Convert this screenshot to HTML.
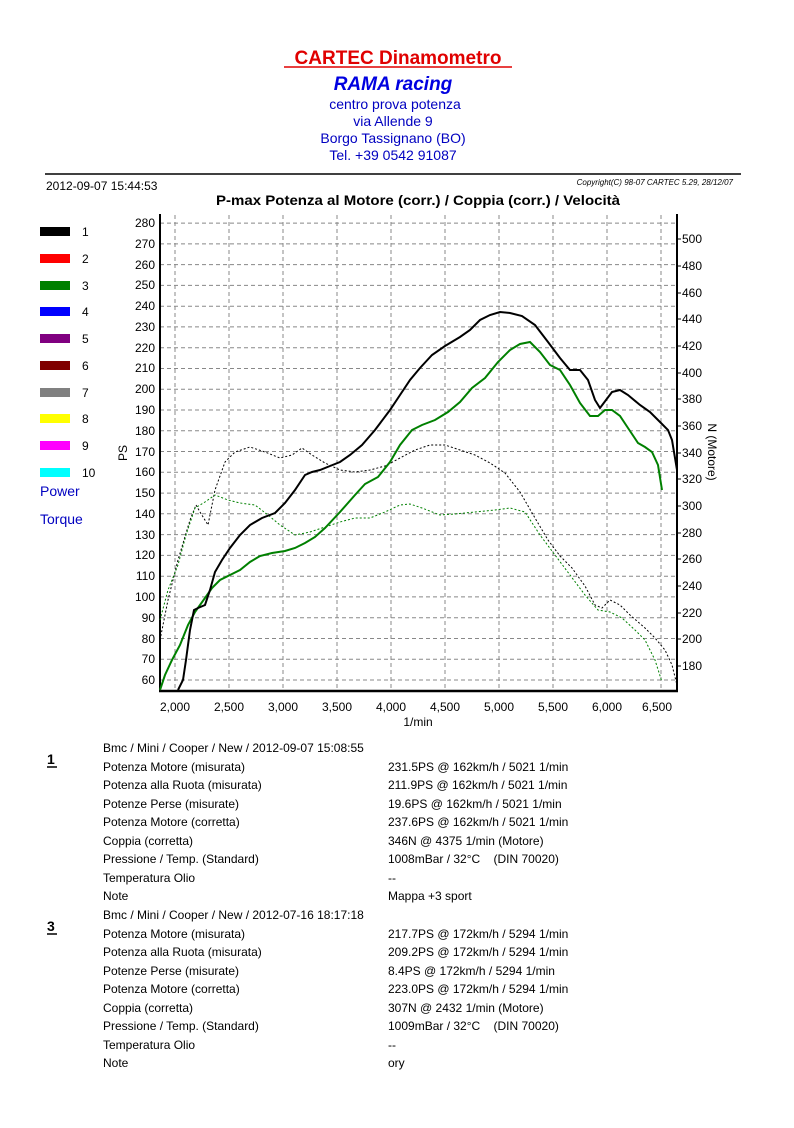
<!DOCTYPE html>
<html><head><meta charset="utf-8"><style>
body{margin:0;background:#fff}
svg text{font-family:"Liberation Sans",Arial,sans-serif;white-space:pre}
</style></head><body>
<svg width="794" height="1123" xmlns="http://www.w3.org/2000/svg">
<rect width="794" height="1123" fill="#fff"/>
<text x="398" y="64" font-size="19" font-weight="bold" fill="#e00000" text-anchor="middle">CARTEC Dinamometro</text>
<line x1="284" y1="67" x2="512" y2="67" stroke="#e00000" stroke-width="1.5"/>
<text x="393" y="90" font-size="19" font-weight="bold" font-style="italic" fill="#0000e0" text-anchor="middle">RAMA racing</text>
<g font-size="14" fill="#0000c0" text-anchor="middle">
<text x="395" y="109">centro prova potenza</text>
<text x="393" y="126">via Allende 9</text>
<text x="393" y="143">Borgo Tassignano (BO)</text>
<text x="393" y="160">Tel. +39 0542 91087</text>
</g>
<line x1="45" y1="174" x2="741" y2="174" stroke="#000" stroke-width="1.5"/>
<text x="46" y="190" font-size="12">2012-09-07 15:44:53</text>
<text x="733" y="185" font-size="8" font-style="italic" text-anchor="end">Copyright(C) 98-07 CARTEC 5.29, 28/12/07</text>
<text x="418" y="205" font-size="14" font-weight="bold" text-anchor="middle" textLength="404" lengthAdjust="spacingAndGlyphs">P-max Potenza al Motore (corr.) / Coppia (corr.) / Velocità</text>
<g font-size="12">
<rect x="40" y="227" width="30" height="9" fill="#000"/><text x="82" y="236">1</text>
<rect x="40" y="254" width="30" height="9" fill="#ff0000"/><text x="82" y="263">2</text>
<rect x="40" y="281" width="30" height="9" fill="#008000"/><text x="82" y="290">3</text>
<rect x="40" y="307" width="30" height="9" fill="#0000ff"/><text x="82" y="316">4</text>
<rect x="40" y="334" width="30" height="9" fill="#800080"/><text x="82" y="343">5</text>
<rect x="40" y="361" width="30" height="9" fill="#800000"/><text x="82" y="370">6</text>
<rect x="40" y="388" width="30" height="9" fill="#808080"/><text x="82" y="397">7</text>
<rect x="40" y="414" width="30" height="9" fill="#ffff00"/><text x="82" y="423">8</text>
<rect x="40" y="441" width="30" height="9" fill="#ff00ff"/><text x="82" y="450">9</text>
<rect x="40" y="468" width="30" height="9" fill="#00ffff"/><text x="82" y="477">10</text>
<text x="40" y="496" font-size="14" fill="#0000c0">Power</text>
<text x="40" y="524" font-size="14" fill="#0000c0">Torque</text>
</g>
<g stroke="#888" stroke-dasharray="4,3" stroke-width="1">
<line x1="160" x2="677" y1="223.1" y2="223.1"/><line x1="160" x2="677" y1="243.9" y2="243.9"/><line x1="160" x2="677" y1="264.6" y2="264.6"/><line x1="160" x2="677" y1="285.4" y2="285.4"/><line x1="160" x2="677" y1="306.2" y2="306.2"/><line x1="160" x2="677" y1="326.9" y2="326.9"/><line x1="160" x2="677" y1="347.7" y2="347.7"/><line x1="160" x2="677" y1="368.5" y2="368.5"/><line x1="160" x2="677" y1="389.2" y2="389.2"/><line x1="160" x2="677" y1="410" y2="410"/><line x1="160" x2="677" y1="430.8" y2="430.8"/><line x1="160" x2="677" y1="451.5" y2="451.5"/><line x1="160" x2="677" y1="472.3" y2="472.3"/><line x1="160" x2="677" y1="493.1" y2="493.1"/><line x1="160" x2="677" y1="513.8" y2="513.8"/><line x1="160" x2="677" y1="534.6" y2="534.6"/><line x1="160" x2="677" y1="555.4" y2="555.4"/><line x1="160" x2="677" y1="576.2" y2="576.2"/><line x1="160" x2="677" y1="596.9" y2="596.9"/><line x1="160" x2="677" y1="617.7" y2="617.7"/><line x1="160" x2="677" y1="638.5" y2="638.5"/><line x1="160" x2="677" y1="659.2" y2="659.2"/><line x1="160" x2="677" y1="680" y2="680"/>
<line y1="215" y2="691" x1="175" x2="175"/><line y1="215" y2="691" x1="229" x2="229"/><line y1="215" y2="691" x1="283" x2="283"/><line y1="215" y2="691" x1="337" x2="337"/><line y1="215" y2="691" x1="391" x2="391"/><line y1="215" y2="691" x1="445" x2="445"/><line y1="215" y2="691" x1="499" x2="499"/><line y1="215" y2="691" x1="553" x2="553"/><line y1="215" y2="691" x1="607" x2="607"/><line y1="215" y2="691" x1="661" x2="661"/>
</g>
<line x1="160" y1="214" x2="160" y2="692" stroke="#000" stroke-width="2"/>
<line x1="677" y1="214" x2="677" y2="692" stroke="#000" stroke-width="2"/>
<line x1="159" y1="691" x2="678" y2="691" stroke="#000" stroke-width="2.5"/>
<g font-size="12" text-anchor="end">
<text x="155" y="227">280</text><text x="155" y="248">270</text><text x="155" y="269">260</text><text x="155" y="289">250</text><text x="155" y="310">240</text><text x="155" y="331">230</text><text x="155" y="352">220</text><text x="155" y="372">210</text><text x="155" y="393">200</text><text x="155" y="414">190</text><text x="155" y="435">180</text><text x="155" y="456">170</text><text x="155" y="476">160</text><text x="155" y="497">150</text><text x="155" y="518">140</text><text x="155" y="539">130</text><text x="155" y="559">120</text><text x="155" y="580">110</text><text x="155" y="601">100</text><text x="155" y="622">90</text><text x="155" y="643">80</text><text x="155" y="663">70</text><text x="155" y="684">60</text>
</g>
<g font-size="12">
<text x="682" y="243">500</text><text x="682" y="270">480</text><text x="682" y="297">460</text><text x="682" y="323">440</text><text x="682" y="350">420</text><text x="682" y="377">400</text><text x="682" y="403">380</text><text x="682" y="430">360</text><text x="682" y="457">340</text><text x="682" y="483">320</text><text x="682" y="510">300</text><text x="682" y="537">280</text><text x="682" y="563">260</text><text x="682" y="590">240</text><text x="682" y="617">220</text><text x="682" y="643">200</text><text x="682" y="670">180</text>
</g>
<g stroke="#000" stroke-width="1">
<line x1="677" x2="681" y1="239" y2="239"/><line x1="677" x2="681" y1="266" y2="266"/><line x1="677" x2="681" y1="293" y2="293"/><line x1="677" x2="681" y1="319" y2="319"/><line x1="677" x2="681" y1="346" y2="346"/><line x1="677" x2="681" y1="373" y2="373"/><line x1="677" x2="681" y1="399" y2="399"/><line x1="677" x2="681" y1="426" y2="426"/><line x1="677" x2="681" y1="453" y2="453"/><line x1="677" x2="681" y1="479" y2="479"/><line x1="677" x2="681" y1="506" y2="506"/><line x1="677" x2="681" y1="533" y2="533"/><line x1="677" x2="681" y1="559" y2="559"/><line x1="677" x2="681" y1="586" y2="586"/><line x1="677" x2="681" y1="613" y2="613"/><line x1="677" x2="681" y1="639" y2="639"/><line x1="677" x2="681" y1="666" y2="666"/>
</g>
<g font-size="12" text-anchor="middle">
<text x="175" y="711">2,000</text><text x="229" y="711">2,500</text><text x="283" y="711">3,000</text><text x="337" y="711">3,500</text><text x="391" y="711">4,000</text><text x="445" y="711">4,500</text><text x="499" y="711">5,000</text><text x="553" y="711">5,500</text><text x="607" y="711">6,000</text><text x="657" y="711">6,500</text>
<text x="418" y="726">1/min</text>
</g>
<text transform="translate(127,453) rotate(-90)" font-size="12" text-anchor="middle">PS</text>
<text transform="translate(708,452) rotate(90)" font-size="12" text-anchor="middle">N (Motore)</text>
<polyline fill="none" stroke="#000" stroke-width="1" stroke-dasharray="2,2" points="160,640 168,600 178,560 190,520 196,505 200,512 208,525 215,490 225,462 235,452 250,447 265,452 280,458 292,455 302,448 312,455 325,463 340,470 355,472 370,470 385,466 400,458 415,450 430,445 445,445 460,450 475,455 490,463 505,473 520,492 535,518 548,540 560,556 572,568 585,586 595,605 602,608 610,600 620,605 630,615 645,628 655,638 665,650 672,665 677,685"/>
<polyline fill="none" stroke="#008000" stroke-width="1" stroke-dasharray="2,2" points="160,620 168,590 178,565 186,535 195,508 205,502 215,495 228,500 240,503 255,505 268,515 280,525 295,535 310,532 325,527 340,522 355,518 370,518 385,512 400,505 410,504 422,508 440,515 455,514 475,512 495,510 510,508 525,512 540,535 555,555 570,575 585,595 598,610 610,612 622,618 635,630 645,640 655,660 662,682"/>
<polyline fill="none" stroke="#008000" stroke-width="2" points="160,690 165,675 172,660 180,645 188,625 195,612 200,605 205,598 212,588 220,580 232,574 240,570 250,562 260,556 272,553 285,551 295,548 305,543 315,537 325,528 340,512 355,495 365,484 378,477 390,462 400,445 412,430 422,425 435,420 448,412 460,402 472,388 485,378 498,362 510,350 520,344 530,342 540,352 550,365 560,370 570,385 580,403 590,416 598,416 605,410 612,410 620,416 628,428 638,443 645,447 652,452 658,465 662,490"/>
<polyline fill="none" stroke="#000" stroke-width="2" points="178,690 183,680 186,660 190,630 194,610 198,608 205,605 210,590 215,572 222,560 230,548 240,535 250,525 262,518 275,513 285,503 295,490 305,475 312,472 320,470 330,466 340,462 350,455 362,445 375,430 390,410 400,395 410,380 420,368 432,355 445,346 460,337 470,330 480,320 490,315 500,312 510,313 522,316 535,325 548,342 560,358 570,370 580,370 588,380 595,400 600,408 606,400 612,392 620,390 628,395 640,405 650,412 660,422 668,430 672,440 677,470"/>
<g font-size="12">
<text x="47" y="764" font-size="14" font-weight="bold">1</text><line x1="47" y1="767" x2="57" y2="767" stroke="#000" stroke-width="1.5"/>
<text x="103" y="752">Bmc / Mini / Cooper / New / 2012-09-07 15:08:55</text>
<text x="103" y="771">Potenza Motore (misurata)</text><text x="388" y="771">231.5PS @ 162km/h / 5021 1/min</text>
<text x="103" y="789">Potenza alla Ruota (misurata)</text><text x="388" y="789">211.9PS @ 162km/h / 5021 1/min</text>
<text x="103" y="808">Potenze Perse (misurate)</text><text x="388" y="808">19.6PS @ 162km/h / 5021 1/min</text>
<text x="103" y="826">Potenza Motore (corretta)</text><text x="388" y="826">237.6PS @ 162km/h / 5021 1/min</text>
<text x="103" y="845">Coppia (corretta)</text><text x="388" y="845">346N @ 4375 1/min (Motore)</text>
<text x="103" y="863">Pressione / Temp. (Standard)</text><text x="388" y="863">1008mBar / 32°C    (DIN 70020)</text>
<text x="103" y="882">Temperatura Olio</text><text x="388" y="882">--</text>
<text x="103" y="900">Note</text><text x="388" y="900">Mappa +3 sport</text>
<text x="47" y="931" font-size="14" font-weight="bold">3</text><line x1="47" y1="934" x2="57" y2="934" stroke="#000" stroke-width="1.5"/>
<text x="103" y="919">Bmc / Mini / Cooper / New / 2012-07-16 18:17:18</text>
<text x="103" y="938">Potenza Motore (misurata)</text><text x="388" y="938">217.7PS @ 172km/h / 5294 1/min</text>
<text x="103" y="956">Potenza alla Ruota (misurata)</text><text x="388" y="956">209.2PS @ 172km/h / 5294 1/min</text>
<text x="103" y="975">Potenze Perse (misurate)</text><text x="388" y="975">8.4PS @ 172km/h / 5294 1/min</text>
<text x="103" y="993">Potenza Motore (corretta)</text><text x="388" y="993">223.0PS @ 172km/h / 5294 1/min</text>
<text x="103" y="1012">Coppia (corretta)</text><text x="388" y="1012">307N @ 2432 1/min (Motore)</text>
<text x="103" y="1030">Pressione / Temp. (Standard)</text><text x="388" y="1030">1009mBar / 32°C    (DIN 70020)</text>
<text x="103" y="1049">Temperatura Olio</text><text x="388" y="1049">--</text>
<text x="103" y="1067">Note</text><text x="388" y="1067">ory</text>
</g>
</svg>
</body></html>
